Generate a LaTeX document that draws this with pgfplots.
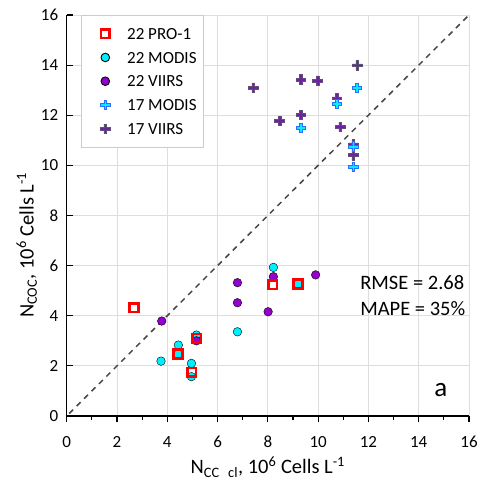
\documentclass[border=0pt]{standalone}
\usepackage{pgfplots}
\pgfplotsset{compat=1.18}
\usepackage{fontspec}
\setmainfont{Carlito}

\definecolor{proRed}{RGB}{255,0,0}
\definecolor{modCyan}{RGB}{0,238,255}
\definecolor{viiPurple}{RGB}{148,0,204}
\definecolor{crossPurple}{RGB}{112,32,165}
\definecolor{crossEdge}{RGB}{96,80,120}
\definecolor{crossBlue}{RGB}{40,110,255}
\definecolor{gridGray}{RGB}{222,222,222}

% thick plus-shaped mark with an outline
\pgfdeclareplotmark{fatplus}{%
  \pgfmathsetlengthmacro\pmw{0.29*\pgfplotmarksize}%
  \pgfpathmoveto{\pgfqpoint{-\pmw}{\pgfplotmarksize}}%
  \pgfpathlineto{\pgfqpoint{\pmw}{\pgfplotmarksize}}%
  \pgfpathlineto{\pgfqpoint{\pmw}{\pmw}}%
  \pgfpathlineto{\pgfqpoint{\pgfplotmarksize}{\pmw}}%
  \pgfpathlineto{\pgfqpoint{\pgfplotmarksize}{-\pmw}}%
  \pgfpathlineto{\pgfqpoint{\pmw}{-\pmw}}%
  \pgfpathlineto{\pgfqpoint{\pmw}{-\pgfplotmarksize}}%
  \pgfpathlineto{\pgfqpoint{-\pmw}{-\pgfplotmarksize}}%
  \pgfpathlineto{\pgfqpoint{-\pmw}{-\pmw}}%
  \pgfpathlineto{\pgfqpoint{-\pgfplotmarksize}{-\pmw}}%
  \pgfpathlineto{\pgfqpoint{-\pgfplotmarksize}{\pmw}}%
  \pgfpathlineto{\pgfqpoint{-\pmw}{\pmw}}%
  \pgfpathclose
  \pgfusepathqfillstroke
}

\pgfplotsset{
  keyimage/.style={legend image code/.code={%
      \path (0pt,0pt) (37.7pt,0pt);
      \draw[##1] plot coordinates {(16.3pt,0pt)};}},
  proStyle/.style={only marks, mark=square, mark size=4.3pt, mark options={draw=proRed, line width=2.7pt, fill=none}, keyimage},
  modStyle/.style={only marks, mark=*, mark size=4.3pt, mark options={draw=none, fill=modCyan}, keyimage},
  viiStyle/.style={only marks, mark=*, mark size=4.3pt, mark options={draw=none, fill=viiPurple}, keyimage},
  modCrossStyle/.style={only marks, mark=fatplus, mark size=4.7pt, mark options={draw=crossBlue, fill=modCyan, line width=0.8pt}, keyimage},
  viiCrossStyle/.style={only marks, mark=fatplus, mark size=4.7pt, mark options={draw=crossEdge, fill=crossPurple, line width=0.5pt}, keyimage},
}

\begin{document}
\begin{tikzpicture}
\begin{axis}[
  name=ax,
  scale only axis,
  width=402.3pt, height=401pt,
  xmin=0, xmax=16, ymin=0, ymax=16,
  xtick={0,2,...,16}, ytick={0,2,...,16},
  minor xtick={1,3,...,15},
  axis x line*=bottom, axis y line*=left,
  axis line style={black, line width=1.4pt},
  xtick style={black, line width=1.2pt},
  ytick style={black, line width=1.2pt},
  xtick pos=bottom, ytick pos=left,
  xtick align=outside, ytick align=inside,
  major tick length=6pt, minor tick length=4pt,
  grid=major,
  major grid style={gridGray, line width=0.9pt},
  tick label style={font=\fontsize{17}{20}\selectfont},
  /pgf/number format/assume math mode=true,
  xticklabel style={anchor=base, yshift=-25.5pt},
  yticklabel style={anchor=east, xshift=-5pt},
  xlabel={N\textsubscript{CC\hspace{9pt}cl}, 10\textsuperscript{6} Cells L\textsuperscript{-1}},
  ylabel={N\textsubscript{COC}, 10\textsuperscript{6} Cells L\textsuperscript{-1}},
  label style={font=\fontsize{20.5}{24}\selectfont},
  xlabel style={at={(axis description cs:0.5,-0.1446)}, anchor=base},
  ylabel style={at={(axis description cs:-0.082,0.426)}, anchor=base},
  clip=false,
  legend style={at={(rel axis cs:0.0358,1)}, anchor=north west, draw=gray!40, line width=0.9pt, fill=white,
    font=\fontsize{17}{20}\selectfont, row sep=0pt, column sep=0pt,
    inner xsep=7pt, inner ysep=6.4pt,
    nodes={inner sep=0pt, text height=17.4pt, text depth=6.35pt}},
  legend cell align=left,
]
% legend entries
\addlegendimage{proStyle}\addlegendentry{22 PRO-1}
\addlegendimage{modStyle}\addlegendentry{22 MODIS}
\addlegendimage{viiStyle}\addlegendentry{22 VIIRS}
\addlegendimage{modCrossStyle}\addlegendentry{17 MODIS}
\addlegendimage{viiCrossStyle}\addlegendentry{17 VIIRS}

% 1:1 line
\addplot[forget plot, dash pattern=on 5.5pt off 5pt, line width=1.5pt, color=black!72] coordinates {(0.1,0.1) (16,16)};

% 2022 MODIS
\addplot[forget plot, modStyle] coordinates {
  (8.22,5.93) (6.79,3.36) (5.16,3.23) (4.44,2.83) (3.75,2.19)
  (4.96,2.10) (4.96,1.57) (4.43,2.47) (9.20,5.27)
};
% 2022 VIIRS
\addplot[forget plot, viiStyle] coordinates {
  (3.78,3.79) (6.79,5.32) (6.79,4.52) (8.01,4.16) (8.22,5.56)
  (9.90,5.63) (5.16,3.00)
};
% 2022 PRO-1
\addplot[forget plot, proStyle] coordinates {
  (2.68,4.32) (4.43,2.47) (5.17,3.10) (4.97,1.74) (8.19,5.24) (9.20,5.27)
};
% 2017 VIIRS
\addplot[forget plot, viiCrossStyle] coordinates {
  (7.42,13.10) (9.31,13.43) (9.97,13.38) (11.55,14.00) (10.74,12.68)
  (9.31,12.01) (8.46,11.78) (10.88,11.54) (11.40,10.84) (11.40,10.41)
};
% 2017 MODIS
\addplot[forget plot, modCrossStyle] coordinates {
  (11.55,13.08) (10.74,12.45) (9.31,11.50) (11.40,10.75) (11.40,9.93)
};

\node[anchor=base west, inner sep=0pt, font=\fontsize{20.5}{24}\selectfont] at (axis cs:11.67,5.03) {RMSE = 2.68};
\node[anchor=base west, inner sep=0pt, font=\fontsize{20.5}{24}\selectfont] at (axis cs:11.67,4.03) {MAPE = 35\%};
\node[font=\fontsize{27}{30}\selectfont] at (axis cs:14.88,1.04) {a};
\end{axis}
\pgfresetboundingbox
\path (ax.south west) ++(-66.7pt,-64pt) rectangle ++(481pt,480pt);
\end{tikzpicture}
\end{document}
